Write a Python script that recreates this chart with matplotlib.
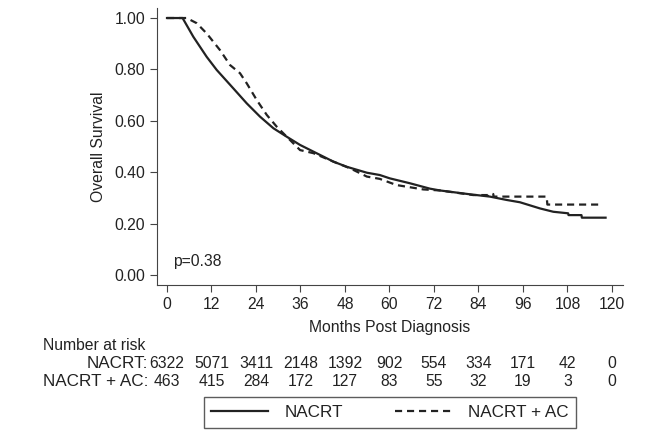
import matplotlib
matplotlib.use('Agg')
import matplotlib.pyplot as plt
import matplotlib.transforms as mtransforms

plt.rcParams['font.family'] = ['Liberation Sans', 'DejaVu Sans']
plt.rcParams['font.size'] = 11.3

# survival curves (months, survival)
nacrt_m = [0, 4.2, 7.1, 10.7, 13.4, 17.9, 21.5, 25.1, 28.7, 32.3, 35.9, 39.5, 44.9, 48.5, 53.9, 57.4,
           60.1, 65.5, 70.9, 73.6, 81.7, 87.1, 91.6, 95.2, 100.6, 104.2, 108.2, 108.3, 111.8, 111.9, 118.3]
nacrt_s = [1.0, 1.0, 0.927, 0.849, 0.798, 0.726, 0.668, 0.616, 0.571, 0.538, 0.506, 0.480, 0.441, 0.421, 0.398, 0.389,
           0.376, 0.357, 0.336, 0.329, 0.314, 0.305, 0.292, 0.283, 0.259, 0.246, 0.240, 0.233, 0.233, 0.223, 0.223]
ac_m = [0, 5.3, 8.0, 10.7, 14.3, 17.0, 19.7, 21.5, 24.2, 26.9, 29.6, 32.3, 35.9, 39.5, 44.9, 49.4, 53.9, 57.4,
        61.9, 69.1, 73.6, 82.6, 86.6, 86.7, 88.0, 88.1, 102.4, 102.6, 116.8]
ac_s = [1.0, 1.0, 0.98, 0.94, 0.875, 0.817, 0.785, 0.746, 0.681, 0.623, 0.577, 0.538, 0.486, 0.474, 0.441, 0.415, 0.383, 0.374,
        0.350, 0.333, 0.329, 0.311, 0.311, 0.315, 0.315, 0.305, 0.305, 0.274, 0.274]

months = [0, 12, 24, 36, 48, 60, 72, 84, 96, 108, 120]
risk_nacrt = [6322, 5071, 3411, 2148, 1392, 902, 554, 334, 171, 42, 0]
risk_ac = [463, 415, 284, 172, 127, 83, 55, 32, 19, 3, 0]

fig = plt.figure(figsize=(6.69, 4.36), dpi=100)
ax = fig.add_axes([157/669, 1-285/436, (623-157)/669, (285-8)/436])

col = '#222222'
ax.plot(nacrt_m, nacrt_s, color=col, lw=1.6, label='NACRT')
ax.plot(ac_m, ac_s, color=col, lw=1.6, ls=(0, (3.2, 2.2)), label='NACRT + AC')

ax.set_xlim(-2.7, 123)
ax.set_ylim(-0.039, 1.039)
ax.set_xticks(months)
ax.set_yticks([0, 0.2, 0.4, 0.6, 0.8, 1.0])
ax.set_yticklabels(['%.2f' % v for v in [0, 0.2, 0.4, 0.6, 0.8, 1.0]])
for s in ['top', 'right']:
    ax.spines[s].set_visible(False)
for s in ['left', 'bottom']:
    ax.spines[s].set_color('#444444')
ax.tick_params(colors='#444444', labelcolor=col, length=5, direction='out')
ax.set_xlabel('Months Post Diagnosis', color=col, labelpad=6)
ax.set_ylabel('Overall Survival', color=col, labelpad=6)
ax.text(1.5, 0.035, 'p=0.38', color=col)

# number at risk table
tr = mtransforms.blended_transform_factory(ax.transData, fig.transFigure)
fig.text(43/669, 1-345/436, 'Number at risk', color=col, va='center', ha='left')
fig.text(148/669, 1-363/436, 'NACRT:', color=col, va='center', ha='right', fontsize=12.3)
fig.text(148/669, 1-381/436, 'NACRT + AC:', color=col, va='center', ha='right', fontsize=12.3)
for m, a, b in zip(months, risk_nacrt, risk_ac):
    ax.text(m, 1-363/436, str(a), transform=tr, ha='center', va='center', color=col, clip_on=False)
    ax.text(m, 1-381/436, str(b), transform=tr, ha='center', va='center', color=col, clip_on=False)

leg = fig.legend(loc='center', bbox_to_anchor=(390/669, 1-412.5/436), ncol=2, fancybox=False,
                 edgecolor='#333333', handlelength=3.3, columnspacing=3.0, borderpad=0.45,
                 handletextpad=1.0, borderaxespad=0, fontsize=12.3)
leg.get_frame().set_linewidth(1.0)
for t in leg.get_texts():
    t.set_color(col)

fig.savefig('out.png', dpi=100)
